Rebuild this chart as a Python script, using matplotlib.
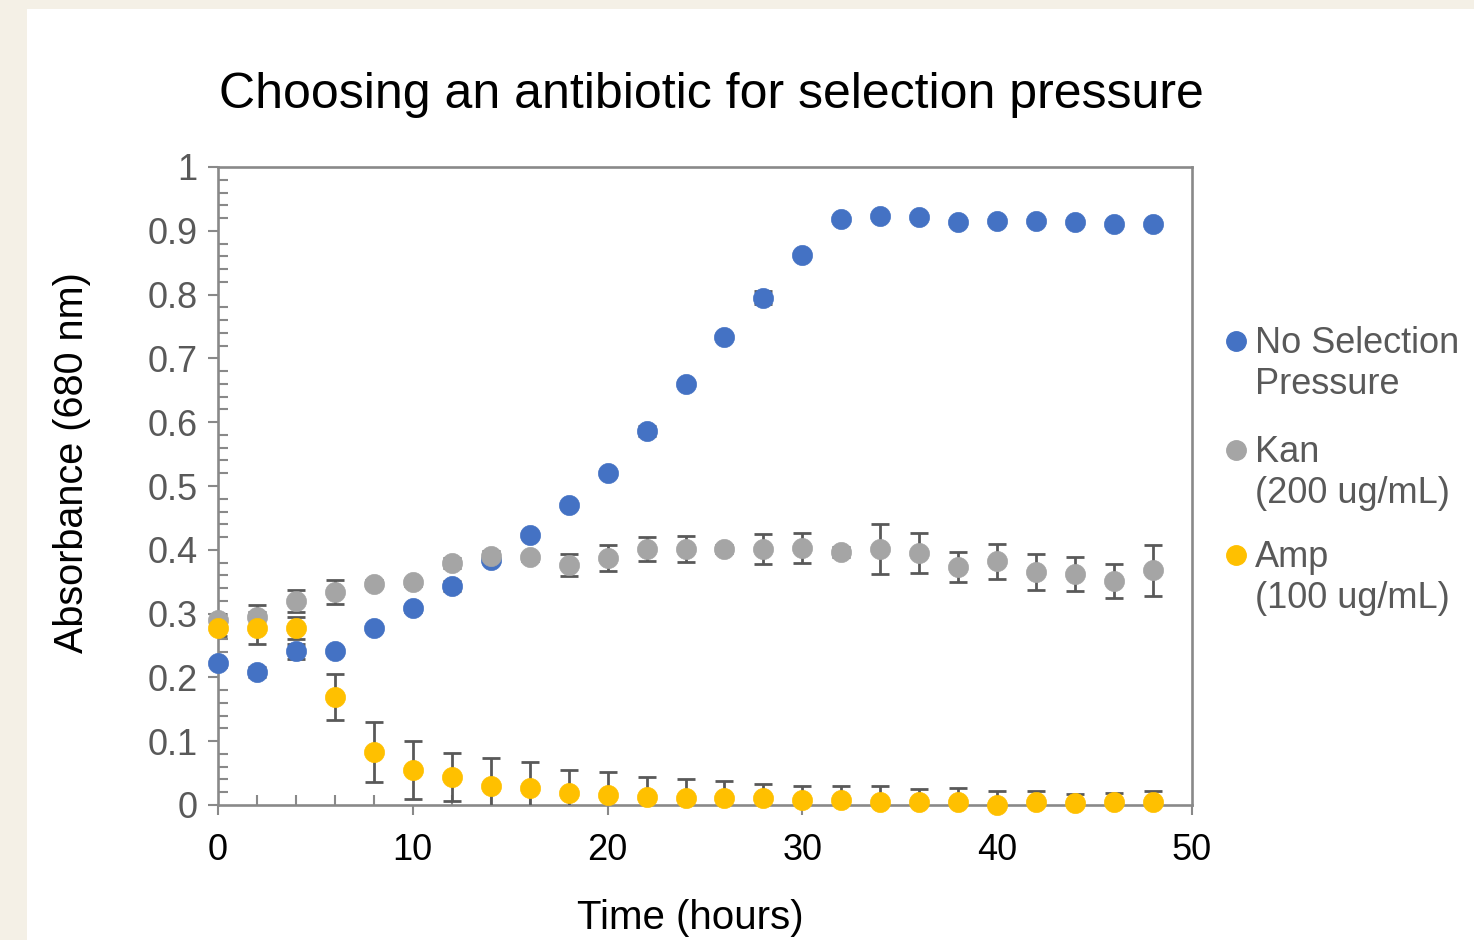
import matplotlib
matplotlib.use("Agg")
import matplotlib.pyplot as plt
from matplotlib.patches import Rectangle
from matplotlib.lines import Line2D
from matplotlib.ticker import MultipleLocator

plt.rcParams['font.family'] = ['Liberation Sans', 'DejaVu Sans']

# ---------------- data ----------------
hours = [0, 2, 4, 6, 8, 10, 12, 14, 16, 18, 20, 22, 24, 26, 28, 30, 32, 34, 36, 38, 40, 42, 44, 46, 48]

no_sel = [0.222, 0.208, 0.241, 0.241, 0.277, 0.308, 0.343, 0.384, 0.423, 0.470, 0.520, 0.586, 0.660, 0.734,
          0.795, 0.862, 0.918, 0.923, 0.922, 0.914, 0.915, 0.915, 0.914, 0.911, 0.911]
no_sel_err = [0.005, 0.008, 0.012, 0.005, 0.004, 0.005, 0.008, 0.005, 0.005, 0.004, 0.004, 0.008, 0.004, 0.004,
              0.010, 0.004, 0.003, 0.003, 0.003, 0.003, 0.003, 0.003, 0.003, 0.003, 0.003]

kan = [0.290, 0.295, 0.320, 0.334, 0.347, 0.349, 0.379, 0.390, 0.388, 0.376, 0.387, 0.401, 0.401, 0.401,
       0.401, 0.403, 0.397, 0.401, 0.395, 0.373, 0.382, 0.365, 0.362, 0.351, 0.368]
kan_err = [0.010, 0.018, 0.017, 0.019, 0.005, 0.005, 0.008, 0.008, 0.006, 0.017, 0.020, 0.019, 0.020, 0.006,
           0.024, 0.024, 0.008, 0.039, 0.032, 0.023, 0.027, 0.028, 0.026, 0.027, 0.040]

amp = [0.277, 0.277, 0.277, 0.169, 0.083, 0.055, 0.044, 0.030, 0.027, 0.019, 0.016, 0.013, 0.011, 0.011,
       0.011, 0.008, 0.008, 0.005, 0.005, 0.005, 0.000, 0.005, 0.003, 0.005, 0.005]
amp_err = [0.012, 0.025, 0.017, 0.036, 0.047, 0.046, 0.038, 0.044, 0.041, 0.036, 0.036, 0.031, 0.030, 0.027,
           0.022, 0.022, 0.022, 0.025, 0.020, 0.022, 0.022, 0.017, 0.014, 0.014, 0.017]

series_names = ["No Selection\nPressure", "Kan\n(200 ug/mL)", "Amp\n(100 ug/mL)"]
series_colors = ["#4472C4", "#A5A5A5", "#FFC000"]

x_ticks = [0, 10, 20, 30, 40, 50]
y_ticks = [0, 0.1, 0.2, 0.3, 0.4, 0.5, 0.6, 0.7, 0.8, 0.9, 1.0]
y_tick_labels = ["0", "0.1", "0.2", "0.3", "0.4", "0.5", "0.6", "0.7", "0.8", "0.9", "1"]

title = "Choosing an antibiotic for selection pressure"
x_label = "Time (hours)"
y_label = "Absorbance (680 nm)"

# ---------------- figure ----------------
W, H = 1474, 940
fig = plt.figure(figsize=(W / 100, H / 100), dpi=100, facecolor="#F4F0E6")
fig.add_artist(Rectangle((27 / W, 0), 1 - 27 / W, 1 - 9 / H, transform=fig.transFigure,
                         facecolor="white", edgecolor="none", zorder=0))

ax = fig.add_axes([218 / W, 1 - 805 / H, (1192 - 218) / W, (805 - 167) / H])
ax.set_facecolor("none")

spine_col = "#898989"
err_col = "#595959"
txt_col = "#595959"

all_y = [no_sel, kan, amp]
all_e = [no_sel_err, kan_err, amp_err]

for ys, es in zip(all_y, all_e):
    ax.errorbar(hours, ys, yerr=es, fmt='none', ecolor=err_col, elinewidth=2.0,
                capsize=6.5, capthick=2.0, zorder=3)

for i, (ys, c) in enumerate(zip(all_y, series_colors)):
    ax.plot(hours, ys, linestyle='none', marker='o', markersize=14.5, markerfacecolor=c,
            markeredgecolor=c, markeredgewidth=0.5, zorder=4 + i, clip_on=False)

ax.set_xlim(0, 50)
ax.set_ylim(0, 1)
ax.set_xticks(x_ticks)
ax.set_yticks(y_ticks)
ax.set_yticklabels(y_tick_labels)
ax.xaxis.set_minor_locator(MultipleLocator(2))
ax.yaxis.set_minor_locator(MultipleLocator(0.02))

for s in ax.spines.values():
    s.set_color(spine_col)
    s.set_linewidth(1.9)

ax.tick_params(axis='both', which='major', direction='out', length=7.5, width=1.5,
               color=spine_col, labelcolor="black", labelsize=26)
ax.tick_params(axis='both', which='minor', direction='in', length=7.5, width=1.5, color=spine_col)
ax.tick_params(axis='x', which='major', pad=13)
ax.tick_params(axis='y', which='major', pad=7)
for lab in ax.get_yticklabels():
    lab.set_color(txt_col)
for lab in ax.get_xticklabels():
    lab.set_color("black")

ax.set_xlabel(x_label, fontsize=29, color="black")
ax.set_ylabel(y_label, fontsize=28.5, color="black")
ax.xaxis.set_label_coords((690 - 218) / 974, -(918 - 805) / 638)
ax.yaxis.set_label_coords((72 - 218) / 974, (805 - 463) / 638)
ax.xaxis.label.set_verticalalignment('center')
ax.yaxis.label.set_verticalalignment('center')

fig.text(711 / W, 1 - 108 / H, title, ha='center', va='baseline', fontsize=36, color="black")

# ---------------- legend (manual, top-aligned markers) ----------------
leg_marker_x = 1236
leg_text_x = 1255
leg_first_baselines = [353, 462, 567]
line_gap = 41
for name, c, b in zip(series_names, series_colors, leg_first_baselines):
    fig.add_artist(Line2D([leg_marker_x / W], [1 - (b - 12) / H], transform=fig.transFigure,
                          marker='o', markersize=14, markerfacecolor=c, markeredgecolor=c,
                          linestyle='none'))
    for k, line in enumerate(name.split("\n")):
        fig.text(leg_text_x / W, 1 - (b + k * line_gap) / H, line, ha='left', va='baseline',
                 fontsize=26, color=txt_col)

fig.savefig("out.png", dpi=100, facecolor=fig.get_facecolor())
